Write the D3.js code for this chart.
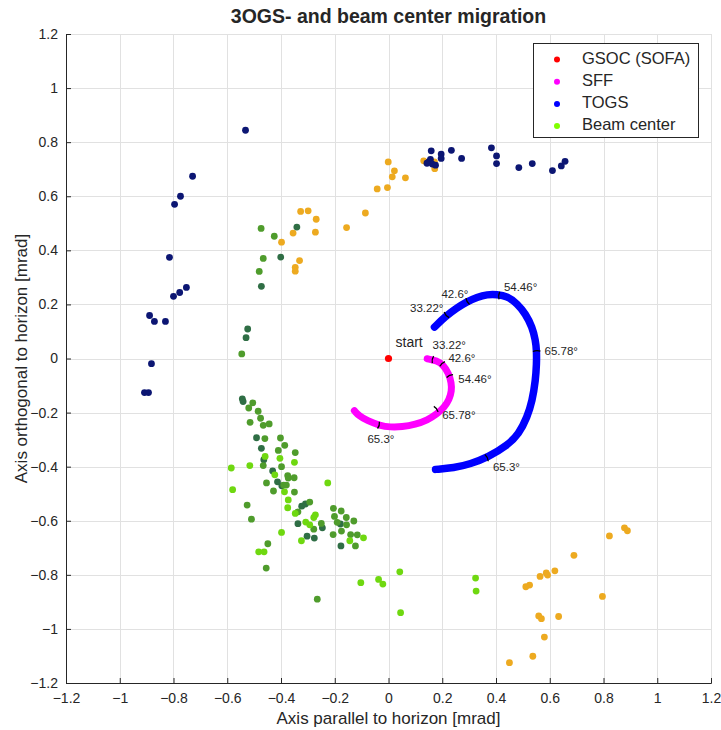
<!DOCTYPE html>
<html>
<head>
<meta charset="utf-8">
<script src="https://cdn.jsdelivr.net/npm/d3@7"></script>
<style>
  body { margin: 0; background: #fff; }
  text { font-family: "Liberation Sans", Arial, Helvetica, sans-serif; fill: #262626; }
</style>
</head>
<body>
<svg id="chart" width="721" height="730"></svg>
<script>
// ---- axis ticks ----
const xTicks = [-1.2, -1, -0.8, -0.6, -0.4, -0.2, 0, 0.2, 0.4, 0.6, 0.8, 1, 1.2];
const yTicks = [-1.2, -1, -0.8, -0.6, -0.4, -0.2, 0, 0.2, 0.4, 0.6, 0.8, 1, 1.2];

// ---- reference point ----
const gsocPoint = [[0, 0]];

// ---- SFF track [x, y] in mrad ----
const sffTrack = [
  [0.144, -0.001], [0.180, -0.008], [0.205, -0.025], [0.224, -0.055], [0.234, -0.090],
  [0.235, -0.120], [0.226, -0.152], [0.208, -0.180], [0.181, -0.205], [0.145, -0.228],
  [0.100, -0.244], [0.050, -0.253], [0.007, -0.254], [-0.032, -0.248], [-0.079, -0.230],
  [-0.110, -0.212], [-0.127, -0.193]
];
// elevation markers on the SFF track
const sffMarks = [
  { label: "33.22°", x: 0.160, y: -0.003 },
  { label: "42.6°",  x: 0.197, y: -0.016 },
  { label: "54.46°", x: 0.226, y: -0.060 },
  { label: "65.78°", x: 0.181, y: -0.184 },
  { label: "65.3°",  x: -0.032, y: -0.248 }
];

// ---- TOGS track [x, y] in mrad ----
const togsTrack = [
  [0.171, 0.116], [0.212, 0.156], [0.256, 0.188], [0.290, 0.209], [0.330, 0.227],
  [0.367, 0.237], [0.404, 0.237], [0.442, 0.230], [0.479, 0.203], [0.510, 0.165],
  [0.535, 0.116], [0.547, 0.067], [0.551, 0.030], [0.551, -0.020], [0.547, -0.081],
  [0.535, -0.156], [0.516, -0.217], [0.485, -0.279], [0.442, -0.322], [0.370, -0.365],
  [0.305, -0.390], [0.243, -0.405], [0.175, -0.410]
];
const togsMarks = [
  { label: "33.22°", x: 0.212, y: 0.158 },
  { label: "42.6°",  x: 0.290, y: 0.209 },
  { label: "54.46°", x: 0.407, y: 0.233 },
  { label: "65.78°", x: 0.551, y: 0.032 },
  { label: "65.3°",  x: 0.370, y: -0.365 }
];

// ---- scattered measurements [x, y] in mrad ----
const navyPoints = [
  [-0.532, 0.844], [-0.729, 0.674], [-0.774, 0.600], [-0.796, 0.570], [-0.815, 0.374],
  [-0.752, 0.263], [-0.777, 0.244], [-0.800, 0.230], [-0.889, 0.159], [-0.871, 0.137],
  [-0.830, 0.137], [-0.882, -0.019], [-0.908, -0.126], [-0.893, -0.126],
  [0.159, 0.768], [0.150, 0.727], [0.156, 0.736], [0.163, 0.719], [0.175, 0.715],
  [0.143, 0.722], [0.196, 0.756], [0.196, 0.740], [0.234, 0.770], [0.272, 0.740],
  [0.383, 0.779], [0.402, 0.749], [0.402, 0.721], [0.485, 0.706], [0.535, 0.721],
  [0.610, 0.695], [0.643, 0.712], [0.657, 0.729]
];
const orangePoints = [
  [-0.001, 0.727], [0.022, 0.694], [0.014, 0.672], [0.063, 0.668], [-0.042, 0.627],
  [-0.004, 0.632], [-0.086, 0.538], [-0.156, 0.484], [-0.327, 0.544], [-0.299, 0.546],
  [-0.269, 0.515], [-0.355, 0.464], [-0.272, 0.467], [-0.398, 0.430], [-0.331, 0.362],
  [-0.347, 0.337], [-0.347, 0.323], [0.131, 0.731], [0.171, 0.727], [0.172, 0.702],
  [0.690, -0.728], [0.619, -0.785], [0.587, -0.793], [0.592, -0.801], [0.564, -0.806],
  [0.525, -0.838], [0.511, -0.844], [0.796, -0.880], [0.559, -0.952], [0.569, -0.962],
  [0.633, -0.954], [0.580, -1.030], [0.537, -1.101], [0.450, -1.125], [0.822, -0.656],
  [0.878, -0.626], [0.889, -0.637]
];

// ---- beam center, three shades ----
const beamDark = [
  [-0.341, 0.486], [-0.401, 0.375], [-0.473, 0.267], [-0.524, 0.109], [-0.530, 0.077],
  [-0.544, -0.149], [-0.541, -0.159], [-0.491, -0.293], [-0.473, -0.332], [-0.464, -0.374],
  [-0.431, -0.416], [-0.413, -0.456], [-0.397, -0.471], [-0.323, -0.546], [-0.309, -0.538],
  [-0.337, -0.611], [-0.246, -0.626], [-0.179, -0.612], [-0.177, -0.693], [-0.303, -0.657],
  [-0.276, -0.664]
];
const beamMid = [
  [-0.474, 0.481], [-0.425, 0.452], [-0.466, 0.370], [-0.481, 0.322], [-0.546, 0.017],
  [-0.505, -0.164], [-0.520, -0.183], [-0.485, -0.195], [-0.476, -0.221], [-0.515, -0.236],
  [-0.466, -0.247], [-0.444, -0.242], [-0.460, -0.296], [-0.402, -0.294], [-0.386, -0.321],
  [-0.410, -0.340], [-0.347, -0.348], [-0.466, -0.396], [-0.398, -0.400], [-0.375, -0.433],
  [-0.373, -0.442], [-0.351, -0.441], [-0.454, -0.460], [-0.390, -0.468], [-0.380, -0.468],
  [-0.428, -0.490], [-0.350, -0.494], [-0.293, -0.531], [-0.526, -0.542], [-0.337, -0.567],
  [-0.510, -0.594], [-0.250, -0.610], [-0.278, -0.631], [-0.205, -0.554], [-0.176, -0.564],
  [-0.201, -0.584], [-0.157, -0.588], [-0.129, -0.601], [-0.191, -0.606], [-0.156, -0.615],
  [-0.175, -0.638], [-0.206, -0.651], [-0.141, -0.651], [-0.116, -0.652], [-0.123, -0.693],
  [-0.449, -0.685], [-0.455, -0.775], [-0.265, -0.890]
];
const beamLight = [
  [-0.459, -0.362], [-0.404, -0.369], [-0.350, -0.384], [-0.585, -0.405], [-0.516, -0.396],
  [-0.423, -0.430], [-0.226, -0.460], [-0.580, -0.485], [-0.387, -0.493], [-0.373, -0.523],
  [-0.375, -0.552], [-0.347, -0.573], [-0.272, -0.578], [-0.278, -0.588], [-0.308, -0.605],
  [-0.293, -0.615], [-0.093, -0.663], [-0.144, -0.674], [-0.324, -0.674], [-0.398, -0.643],
  [-0.483, -0.715], [-0.463, -0.715], [-0.103, -0.829], [-0.037, -0.817], [-0.021, -0.834],
  [0.042, -0.789], [0.045, -0.940], [0.324, -0.812], [0.326, -0.860]
];

// ---- legend ----
const legendLabels = ["GSOC (SOFA)", "SFF", "TOGS", "Beam center"];
const legendColors = ["#ff0000", "#ff00ff", "#0000ff", "#80ff00"];

// ---------------------------------------------------------------
const svg = d3.select("#chart");
const W = 721, H = 730;
const margin = { left: 66, right: 10, top: 34, bottom: 47 };

const x = d3.scaleLinear().domain([-1.2, 1.2]).range([margin.left, W - margin.right]);
const y = d3.scaleLinear().domain([-1.2, 1.2]).range([H - margin.bottom, margin.top]);

// grid
const grid = svg.append("g").attr("stroke", "#e1e1e1").attr("stroke-width", 1);
grid.selectAll("line.gx").data(xTicks).join("line")
  .attr("x1", d => Math.round(x(d)) + 0.5).attr("x2", d => Math.round(x(d)) + 0.5)
  .attr("y1", y(1.2)).attr("y2", y(-1.2));
grid.selectAll("line.gy").data(yTicks).join("line")
  .attr("y1", d => Math.round(y(d)) + 0.5).attr("y2", d => Math.round(y(d)) + 0.5)
  .attr("x1", x(-1.2)).attr("x2", x(1.2));

// axes (ticks point inward)
const xAxis = d3.axisBottom(x).tickValues(xTicks).tickSize(-5).tickPadding(10).tickFormat(d3.format("~g"));
const yAxis = d3.axisLeft(y).tickValues(yTicks).tickSize(-5).tickPadding(8).tickFormat(d3.format("~g"));

const gx = svg.append("g").attr("transform", `translate(0,${y(-1.2)})`).call(xAxis);
const gy = svg.append("g").attr("transform", `translate(${x(-1.2)},0)`).call(yAxis);
[gx, gy].forEach(g => {
  g.select(".domain").attr("stroke", "#262626");
  g.selectAll(".tick line").attr("stroke", "#262626");
  g.selectAll(".tick text").attr("font-size", 14).attr("fill", "#262626")
    .attr("font-family", "'Liberation Sans', Arial, sans-serif");
});
gx.selectAll(".tick text").attr("dy", "0.71em");

// axis titles
svg.append("text").attr("x", x(0)).attr("y", 724).attr("text-anchor", "middle")
  .attr("font-size", 17).text("Axis parallel to horizon [mrad]");
svg.append("text").attr("transform", `translate(27,${y(0)}) rotate(-90)`)
  .attr("text-anchor", "middle").attr("font-size", 17)
  .text("Axis orthogonal to horizon [mrad]");

// chart title
svg.append("text").attr("x", x(0)).attr("y", 23).attr("text-anchor", "middle")
  .attr("font-size", 19.5).attr("font-weight", "bold").attr("fill", "#000")
  .text("3OGS- and beam center migration");

// scatter layers
function dots(data, color, r) {
  svg.append("g").selectAll("circle").data(data).join("circle")
    .attr("cx", d => x(d[0])).attr("cy", d => y(d[1])).attr("r", r)
    .attr("fill", color);
}
dots(orangePoints, "#edaa20", 3.4);
dots(navyPoints, "#0c1673", 3.4);
dots(beamDark, "#2f6e45", 3.4);
dots(beamMid, "#4f9c2c", 3.4);
dots(beamLight, "#6fd810", 3.4);

// tracks
const line = d3.line().x(d => x(d[0])).y(d => y(d[1])).curve(d3.curveBasis);
function track(data, marks, color, width) {
  svg.append("path").datum(data).attr("d", line)
    .attr("fill", "none").attr("stroke", color).attr("stroke-width", width)
    .attr("stroke-linecap", "round").attr("stroke-linejoin", "round");
  // short black tick across the band at each elevation marker
  marks.forEach(m => {
    const px = x(m.x), py = y(m.y);
    let best = 0, bd = Infinity;
    data.forEach((d, i) => {
      const dd = (x(d[0]) - px) ** 2 + (y(d[1]) - py) ** 2;
      if (dd < bd) { bd = dd; best = i; }
    });
    const a = data[Math.max(0, best - 1)], b = data[Math.min(data.length - 1, best + 1)];
    let tx = x(b[0]) - x(a[0]), ty = y(b[1]) - y(a[1]);
    const len = Math.hypot(tx, ty) || 1; tx /= len; ty /= len;
    const h = width / 2;
    svg.append("path")
      .attr("d", `M${px - ty * h + tx * 1.5},${py + tx * h + ty * 1.5} Q${px},${py} ${px + ty * h + tx * 1.5},${py - tx * h + ty * 1.5}`)
      .attr("fill", "none").attr("stroke", "#000").attr("stroke-width", 1.3);
  });
}
track(sffTrack, sffMarks, "#ff00ff", 7);
track(togsTrack, togsMarks, "#0000ff", 7.5);

// marker labels: pixel offsets and anchors for readability
const sffLabelPos = [[1, -13, "start"], [7, -4, "start"], [9, 5, "start"], [5, 8, "start"], [1, 14, "middle"]];
const togsLabelPos = [[-2, -7, "end"], [2, -7, "end"], [6, -8, "start"], [8, 2, "start"], [5, 11, "start"]];
function markLabels(marks, pos) {
  svg.append("g").selectAll("text").data(marks).join("text")
    .attr("x", (d, i) => x(d.x) + pos[i][0]).attr("y", (d, i) => y(d.y) + pos[i][1])
    .attr("text-anchor", (d, i) => pos[i][2]).attr("dominant-baseline", "middle")
    .attr("font-size", 11.5).text(d => d.label);
}
markLabels(sffMarks, sffLabelPos);
markLabels(togsMarks, togsLabelPos);

// GSOC reference
dots(gsocPoint, "#ff0000", 3.6);
svg.append("text").attr("x", x(0) + 7).attr("y", y(0) - 15)
  .attr("dominant-baseline", "middle").attr("font-size", 14).text("start");

// legend
const lg = svg.append("g");
lg.append("rect").attr("x", 533.5).attr("y", 43.5).attr("width", 165).attr("height", 94)
  .attr("fill", "#fff").attr("stroke", "#262626").attr("stroke-width", 1);
const rows = lg.selectAll("g.row").data(legendLabels).join("g")
  .attr("transform", (d, i) => `translate(0,${59.5 + i * 22.2})`);
rows.append("circle").attr("cx", 557).attr("cy", 0).attr("r", 3)
  .attr("fill", (d, i) => legendColors[i]);
rows.append("text").attr("x", 582).attr("y", 0).attr("dominant-baseline", "middle")
  .attr("font-size", 16.5).attr("fill", "#000").text(d => d);
</script>
</body>
</html>
